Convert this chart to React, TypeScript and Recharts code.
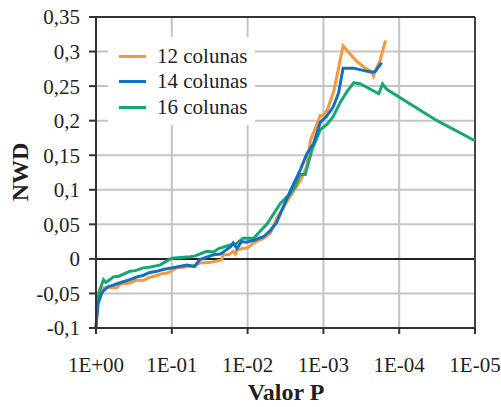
import { CartesianGrid, Legend, Line, LineChart, ReferenceLine, XAxis, YAxis } from "recharts"

// x values are decades of the P value: 0 -> 1E+00, 5 -> 1E-05
const xTicks = [0, 1, 2, 3, 4, 5]
const xTickLabels = ["1E+00", "1E-01", "1E-02", "1E-03", "1E-04", "1E-05"]
const yTicks = [-0.1, -0.05, 0, 0.05, 0.1, 0.15, 0.2, 0.25, 0.3, 0.35]
const yTickLabels = ["-0,1", "-0,05", "0", "0,05", "0,1", "0,15", "0,2", "0,25", "0,3", "0,35"]

const seriesNames = ["12 colunas", "14 colunas", "16 colunas"]
const seriesColors = ["#F7963C", "#1170BF", "#17A673"]

const lg12 = [0, 0.02, 0.06, 0.1, 0.18, 0.27, 0.33, 0.45, 0.52, 0.63, 0.7, 0.8, 0.85, 0.95, 1.06, 1.15, 1.29, 1.37, 1.51, 1.64, 1.66, 1.68, 1.75, 1.81, 1.84, 1.86, 1.94, 2.0, 2.08, 2.21, 2.3, 2.39, 2.56, 2.7, 2.78, 2.83, 2.92, 2.96, 3.0, 3.05, 3.14, 3.26, 3.31, 3.42, 3.55, 3.64, 3.66, 3.75, 3.82]
const nwd12 = [-0.075, -0.05, -0.046, -0.042, -0.041, -0.042, -0.036, -0.035, -0.031, -0.031, -0.027, -0.024, -0.022, -0.02, -0.013, -0.012, -0.01, -0.006, -0.005, -0.002, -0.001, 0.006, 0.006, 0.011, 0.007, 0.013, 0.015, 0.016, 0.023, 0.03, 0.037, 0.06, 0.09, 0.114, 0.134, 0.172, 0.196, 0.208, 0.208, 0.215, 0.244, 0.308, 0.302, 0.288, 0.276, 0.271, 0.265, 0.288, 0.316]

const lg14 = [0, 0.01, 0.03, 0.075, 0.1, 0.16, 0.2, 0.28, 0.36, 0.45, 0.54, 0.62, 0.7, 0.8, 0.9, 1.0, 1.1, 1.2, 1.3, 1.37, 1.45, 1.55, 1.64, 1.72, 1.78, 1.81, 1.86, 1.92, 1.98, 2.08, 2.21, 2.3, 2.38, 2.51, 2.57, 2.7, 2.78, 2.87, 2.96, 3.04, 3.13, 3.2, 3.26, 3.4, 3.55, 3.64, 3.68, 3.77]
const nwd14 = [-0.1, -0.085, -0.064, -0.05, -0.046, -0.04, -0.039, -0.036, -0.033, -0.03, -0.026, -0.024, -0.02, -0.018, -0.015, -0.013, -0.011, -0.009, -0.011, -0.001, 0.002, 0.006, 0.007, 0.013, 0.018, 0.023, 0.015, 0.025, 0.024, 0.027, 0.032, 0.041, 0.052, 0.085, 0.1, 0.13, 0.152, 0.167, 0.198, 0.206, 0.22, 0.24, 0.276, 0.276, 0.272, 0.27, 0.271, 0.284]

const lg16 = [0, 0.02, 0.05, 0.1, 0.13, 0.185, 0.23, 0.3, 0.45, 0.52, 0.62, 0.7, 0.84, 0.92, 1.0, 1.24, 1.3, 1.46, 1.55, 1.62, 1.77, 1.85, 1.94, 2.08, 2.26, 2.43, 2.56, 2.63, 2.69, 2.76, 2.85, 2.96, 3.05, 3.13, 3.22, 3.31, 3.4, 3.49, 3.73, 3.78, 3.84, 4.5, 5.0]
const nwd16 = [-0.1, -0.06, -0.045, -0.03, -0.034, -0.03, -0.026, -0.025, -0.018, -0.017, -0.013, -0.012, -0.009, -0.004, 0.001, 0.003, 0.004, 0.011, 0.01, 0.015, 0.02, 0.022, 0.03, 0.03, 0.051, 0.08, 0.094, 0.105, 0.122, 0.122, 0.158, 0.187, 0.195, 0.206, 0.226, 0.242, 0.255, 0.253, 0.239, 0.253, 0.245, 0.2, 0.171]

const toPoints = (xs: number[], ys: number[]) => xs.map((x, i) => ({ x, y: ys[i] }))
const data12 = toPoints(lg12, nwd12)
const data14 = toPoints(lg14, nwd14)
const data16 = toPoints(lg16, nwd16)

const font = "Liberation Serif"
const ink = "#231f20"

function LegendBox() {
    return (
        <div style={{ width: 147, height: 88, background: "#fff", fontFamily: font, fontSize: 21, color: ink }}>
            {seriesNames.map((name, i) => (
                <div key={name} style={{ position: "absolute", left: 11, top: 7 + i * 25.5, height: 24, display: "flex", alignItems: "center" }}>
                    <span style={{ display: "inline-block", width: 27, height: 3, background: seriesColors[i], marginRight: 11 }} />
                    <span>{name}</span>
                </div>
            ))}
        </div>
    )
}

export default function App() {
    return (
        <div style={{ position: "absolute", left: 0, top: 0, width: 501, height: 407, background: "#fff", fontFamily: font }}>
            <LineChart width={501} height={407} margin={{ top: 17, right: 26, left: 0, bottom: 0 }} style={{ fontFamily: font }}>
                <CartesianGrid stroke="#c4c4c4" strokeWidth={2} />
                <XAxis
                    type="number"
                    dataKey="x"
                    domain={[0, 5]}
                    ticks={xTicks}
                    height={79}
                    tickSize={6}
                    tickMargin={23}
                    tickFormatter={(_v: number, i: number) => xTickLabels[i]}
                    tick={{ fill: ink, fontSize: 21, fontFamily: font }}
                    axisLine={{ stroke: "#333", strokeWidth: 2 }}
                    tickLine={{ stroke: "#333", strokeWidth: 2 }}
                    allowDuplicatedCategory={false}
                    label={{
                        content: () => (
                            <text x={286} y={392} textAnchor="middle" dominantBaseline="central" style={{ fontFamily: font }} fontSize={24} fontWeight="bold" fill={ink}>
                                Valor P
                            </text>
                        ),
                    }}
                />
                <YAxis
                    type="number"
                    domain={[-0.1, 0.35]}
                    ticks={yTicks}
                    width={96}
                    tickSize={7}
                    tickMargin={9}
                    tickFormatter={(_v: number, i: number) => yTickLabels[i]}
                    tick={{ fill: ink, fontSize: 21, fontFamily: font }}
                    axisLine={{ stroke: "#333", strokeWidth: 2 }}
                    tickLine={{ stroke: "#333", strokeWidth: 2 }}
                    label={{
                        content: () => (
                            <text x={20} y={172} transform="rotate(-90 20 172)" textAnchor="middle" dominantBaseline="central" style={{ fontFamily: font }} fontSize={24} fontWeight="bold" fill={ink}>
                                NWD
                            </text>
                        ),
                    }}
                />
                <ReferenceLine y={0} stroke="#222" strokeWidth={2} />
                <ReferenceLine y={0.35} stroke="#333" strokeWidth={2} />
                <ReferenceLine x={5} stroke="#444" strokeWidth={2} />
                <Legend
                    layout="vertical"
                    align="center"
                    verticalAlign="middle"
                    content={() => <LegendBox />}
                    wrapperStyle={{ position: "absolute", top: 37, left: 108, width: 147, height: 88 }}
                />
                <Line data={data12} dataKey="y" name={seriesNames[0]} type="linear" stroke={seriesColors[0]} strokeWidth={3} dot={false} isAnimationActive={false} />
                <Line data={data16} dataKey="y" name={seriesNames[2]} type="linear" stroke={seriesColors[2]} strokeWidth={3} dot={false} isAnimationActive={false} />
                <Line data={data14} dataKey="y" name={seriesNames[1]} type="linear" stroke={seriesColors[1]} strokeWidth={3} dot={false} isAnimationActive={false} />
            </LineChart>
        </div>
    )
}
